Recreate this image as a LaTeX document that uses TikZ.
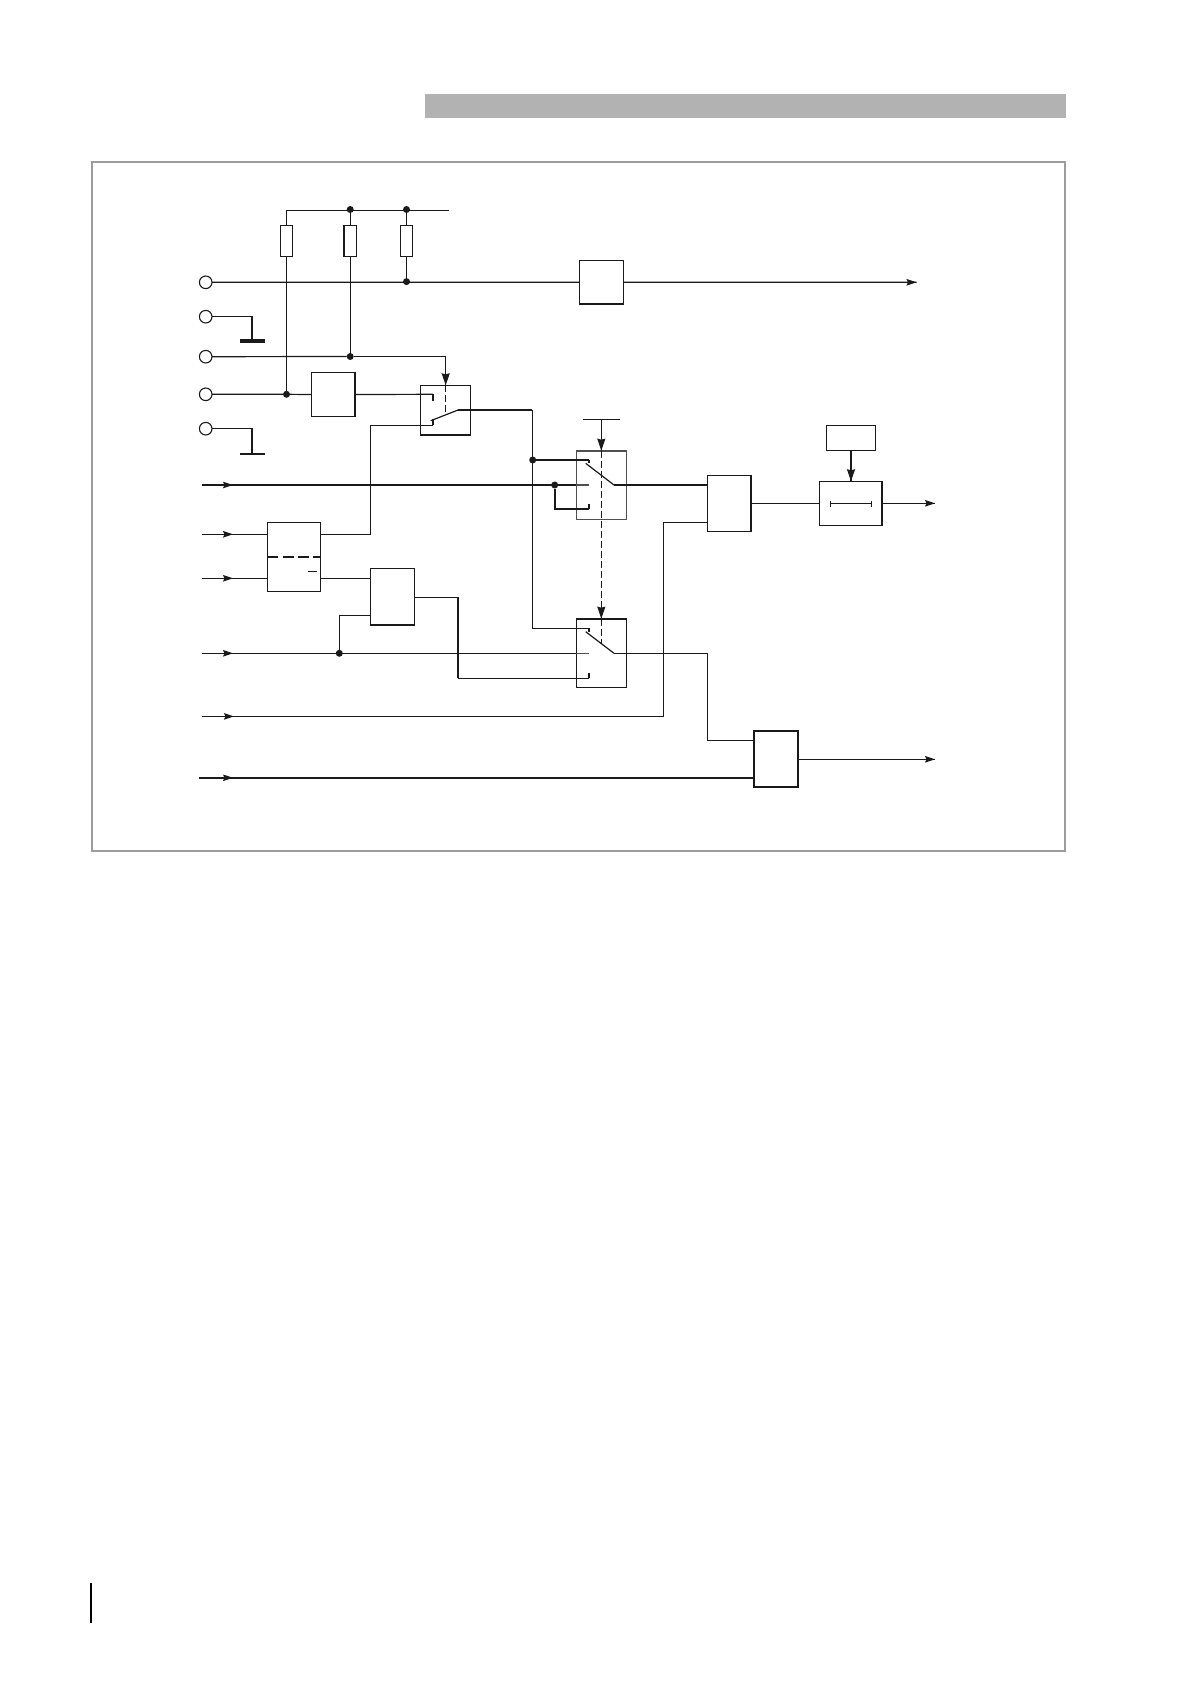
\documentclass[tikz,border=0pt]{standalone}
\usetikzlibrary{arrows.meta,calc}
\definecolor{ink}{HTML}{1A1A1A}
\definecolor{framegray}{HTML}{9C9C9C}
\definecolor{bargray}{HTML}{B2B2B2}
\definecolor{swgray}{HTML}{505050}
\tikzset{
  wire/.style={draw=ink,line width=1.2pt},
  bus/.style={draw=ink,line width=2.3pt},
  contact/.style={draw=ink,line width=1.7pt},
  grayend/.style={draw=swgray,line width=1.5pt},
  mech/.style={draw=ink,line width=1.1pt,dash pattern=on 7pt off 3pt},
  tipa/.style={draw=ink,line width=1.1pt,-{Stealth[length=10pt,width=6.5pt,inset=1.5pt]}},
  tipb/.style={draw=ink,line width=1.1pt,-{Stealth[length=12pt,width=8pt,inset=1pt]}},
  blk/.style={draw=ink,line width=1.1pt,inner sep=0pt,outer sep=0pt,fill=none},
  res/.style={blk,minimum width=12.4pt,minimum height=31.4pt},
  term/.style={circle,draw=ink,line width=1.1pt,minimum size=12.6pt,inner sep=0pt,outer sep=0pt},
  jdot/.style={circle,fill=ink,minimum size=7pt,inner sep=0pt,outer sep=0pt},
}
\begin{document}
\begin{tikzpicture}[x=1pt,y=-1pt]
\useasboundingbox (0,0) rectangle (1190,1684);
% header bar, frame, page rule
\fill[bargray] (425,94) rectangle (1065.7,117.7);
\draw[framegray,line width=2pt] (92,161.7) rectangle (1064.7,850.7);
\draw[black,line width=1.4pt] (90.8,1583.3) -- (90.8,1622.7);

% blocks
\node[res] (R1) at (286.5,241) {};
\node[res,minimum width=13pt] (R2) at (350.2,241) {};
\node[res] (R3) at (406.5,241) {};
\node[blk,minimum width=44pt,minimum height=43.7pt] (bA) at (601.3,282.2) {};
\node[blk,minimum width=44pt,minimum height=44.4pt] (bB) at (333.3,394.5) {};
\node[blk,minimum width=50pt,minimum height=50pt] (sA) at (445.3,410.3) {};
\node[draw=swgray,line width=1.6pt,inner sep=0pt,outer sep=0pt,minimum width=50pt,minimum height=68.6pt] (sB) at (601.3,485) {};
\node[blk,minimum width=50pt,minimum height=68.6pt] (sC) at (601.3,653) {};
\node[blk,minimum width=44pt,minimum height=56pt] (bC) at (729.3,503.3) {};
\node[blk,minimum width=63pt,minimum height=44.4pt] (bD) at (850.8,503.5) {};
\node[blk,minimum width=49.4pt,minimum height=25.4pt] (bE) at (851,438) {};
\node[blk,minimum width=53.4pt,minimum height=69pt] (bF) at (294,556.8) {};
\node[blk,minimum width=44.4pt,minimum height=56.7pt] (bG) at (392.5,596.7) {};
\node[blk,line width=1.9pt,minimum width=44pt,minimum height=56.3pt] (bH) at (776.3,758.9) {};

% heavier block edges
\draw[bus,line width=2pt] (R2.north west) -- (R2.south west);
\draw[bus,line width=2pt] (bA.south west) -- (bA.south east);
\draw[bus,line width=1.9pt] (bB.north east) -- (bB.south east);
\draw[bus,line width=2pt] (sA.south west) -- (sA.south east);
\draw[bus,line width=2.2pt] (sC.north west) -- (sC.north east);
\draw[bus,line width=2.2pt] (bC.north east) -- (bC.south east);
\draw[bus,line width=2.2pt] (bD.north east) -- (bD.south east);
\draw[bus,line width=2.2pt] (bG.south west) -- (bG.south east);

% terminals
\node[term] (T1) at (205.7,282.3) {};
\node[term] (T2) at (205.7,316.7) {};
\node[term] (T3) at (205.7,356.7) {};
\node[term] (T4) at (205.7,394.3) {};
\node[term] (T5) at (205.7,428.7) {};

% junctions
\node[jdot] (jR2) at (350.2,209.5) {};
\node[jdot] (jR3) at (406.5,209.5) {};
\node[jdot] (j282) at (406.5,281.6) {};
\node[jdot] (j357) at (350.2,356.5) {};
\node[jdot] (j394) at (286.5,394.3) {};
\node[jdot] (jTop) at (532.7,460) {};
\node[jdot] (jIn) at (554.7,485) {};
\node[jdot] (jLow) at (339.3,653.3) {};

% named free ends and contacts
\coordinate (railEnd) at (449,210.4);
\coordinate (g1) at (252,341);   \coordinate (g1L) at (240,341); \coordinate (g1R) at (265,341);
\coordinate (g2) at (252,453.7); \coordinate (g2L) at (240,453.7); \coordinate (g2R) at (265,453.7);
\coordinate (sAtop) at (445.7,385.3);
\coordinate (sAdash) at (445.7,412.7);
\coordinate (cA1) at (433,394.3);  \coordinate (cA1e) at (433,400.7);
\coordinate (cA2) at (433,425.3);  \coordinate (cA2e) at (433,419.3);
\coordinate (armA1) at (430.7,420.7); \coordinate (armA2) at (458.3,409.9);
\coordinate (busA) at (532.3,409.9);
\coordinate (cB1) at (589.3,460);  \coordinate (cB1e) at (589.3,463.3);
\coordinate (cB3) at (589.3,509.3);\coordinate (cB3e) at (589.3,504.3);
\coordinate (cBm) at (589.3,485);  \coordinate (eBm) at (576.3,485);
\coordinate (armB1) at (585.7,463.3); \coordinate (armB2) at (614,485);
\coordinate (cC1) at (589.3,628.3);\coordinate (cC1e) at (589.3,631.7);
\coordinate (cC3) at (589.3,678.3);\coordinate (cC3e) at (589.3,672.7);
\coordinate (cCm) at (589.3,653.3);\coordinate (eCm) at (576.3,653.3);
\coordinate (armC1) at (585.7,631.7); \coordinate (armC2) at (614,653.3);
\coordinate (vL) at (583,419.3); \coordinate (vR) at (619.7,419.3); \coordinate (vM) at (601.3,419.3);
\coordinate (sBtop) at (601.3,450.7);
\coordinate (sCtop) at (601.3,618.7);
\coordinate (sCdash) at (601.3,643.3);
\coordinate (bCin1) at (707.3,485);
\coordinate (bCin2) at (707.3,522.3);
\coordinate (bCout) at (751.3,503.3);
\coordinate (bDin) at (819.3,503.3);
\coordinate (bDout) at (882.3,503.3);
\coordinate (outD) at (935,503.3);
\coordinate (outA) at (916.5,282.3);
\coordinate (eTop) at (851,450.7); \coordinate (dTop) at (851,481.3);
\coordinate (iL) at (830.3,503.7); \coordinate (iR) at (871.7,503.7);
\coordinate (bFin1) at (267.3,534.3); \coordinate (bFin2) at (267.3,578.3);
\coordinate (bFo1) at (320.7,534.3);  \coordinate (bFo2) at (320.7,578.3);
\coordinate (dF1) at (267.3,557); \coordinate (dF2) at (320.7,557);
\coordinate (mF1) at (308.3,571.3); \coordinate (mF2) at (317,571.3);
\coordinate (bGin1) at (370.3,578.3); \coordinate (bGin2) at (370.3,615.3);
\coordinate (bGout) at (414.7,597.3);
\coordinate (busG1) at (458,597.3); \coordinate (busG2) at (458,678.3);
\coordinate (bHin1) at (754.3,740.3); \coordinate (bHin2) at (754.3,777.8);
\coordinate (bHout) at (798.3,759.3); \coordinate (outH) at (935,759.3);
\coordinate (swOutC) at (707.3,653.3);
\coordinate (crossC) at (663.3,522.3);
\coordinate (sAin) at (370.7,425.3);

% input stubs
\coordinate (i1) at (202,485);   \coordinate (i1t) at (233,485);
\coordinate (i2) at (202,534.3); \coordinate (i2t) at (233,534.3);
\coordinate (i3) at (202,578.3); \coordinate (i3t) at (233,578.3);
\coordinate (i4) at (202,653.3); \coordinate (i4t) at (233,653.3);
\coordinate (i5) at (202,716.4); \coordinate (i5t) at (234,716.4);
\coordinate (i6) at (199,777.8); \coordinate (i6t) at (233,777.8);

% upper wiring
\draw[wire] (R1.north) |- (railEnd);
\draw[wire] (jR2) -- (R2.north);
\draw[wire] (jR3) -- (R3.north);
\draw[wire] (R1.south) -- (j394);
\draw[wire] (R2.south) -- (j357);
\draw[wire] (R3.south) -- (j282);
\draw[wire] (T1) -- (bA.west);
\draw[wire] (bA.east) -- (outA);
\draw[tipa] ($(outA)+(-10,0)$) -- (outA);
\draw[wire] (T2) -| (g1);
\draw[bus,line width=3.2pt] (g1L) -- (g1R);
\draw[wire] (T5) -| (g2);
\draw[bus,line width=2.2pt] (g2L) -- (g2R);
\draw[wire] (T3) -- (j357);
\draw[wire] (j357) -| (sAtop);
\draw[tipb] ($(sAtop)+(0,-12)$) -- (sAtop);
\draw[mech] (sAtop) -- (sAdash);
\draw[wire] (T4) -- (j394) -- (bB.west);
\draw[wire] (bB.east) -- (cA1);
\draw[contact] (cA1) -- (cA1e);
\draw[contact] (cA2) -- (cA2e);
\draw[wire] (armA1) -- (armA2);
\draw[bus] (armA2) -- (busA);
\draw[wire] (cA2) -- (sAin) -- (sAin |- bFo1) -- (bFo1);
\draw[wire] (busA) -- (busA |- cC1) -- (cC1);
\draw[contact] (cC1) -- (cC1e);

% first changeover
\draw[bus] (jTop) -- (cB1);
\draw[contact] (cB1) -- (cB1e);
\draw[bus] (i1) -- (eBm);
\draw[grayend] (eBm) -- (cBm);
\draw[bus] (jIn) |- (cB3);
\draw[contact] (cB3) -- (cB3e);
\draw[wire] (armB1) -- (armB2);
\draw[bus] (armB2) -- (bCin1);
\draw[wire] (vL) -- (vR);
\draw[wire] (vM) -- (sBtop);
\draw[tipb] ($(sBtop)+(0,-12)$) -- (sBtop);
\draw[mech] (sBtop) -- (sCtop);
\draw[tipb] ($(sCtop)+(0,-12)$) -- (sCtop);
\draw[mech] (sCtop) -- (sCdash);

% second changeover
\draw[wire] (i4) -- (eCm);
\draw[grayend] (eCm) -- (cCm);
\draw[contact] (cC3) -- (cC3e);
\draw[wire] (armC1) -- (armC2);
\draw[wire] (armC2) -- (swOutC) |- (bHin1);

% right side
\draw[wire] (bCout) -- (bDin);
\draw[wire] (bCin2) -- (crossC) |- (i5);
\draw[wire] (bDout) -- (outD);
\draw[tipa] ($(outD)+(-10,0)$) -- (outD);
\draw[bus,line width=2pt] (eTop) -- (dTop);
\draw[tipb,line width=1.2pt] ($(dTop)+(0,-12)$) -- (dTop);
\draw[wire,line width=1pt] (iL) -- (iR);
\draw[wire,line width=1pt] ($(iL)+(0,-3)$) -- ($(iL)+(0,3)$);
\draw[wire,line width=1pt] ($(iR)+(0,-3)$) -- ($(iR)+(0,3)$);

% left blocks
\draw[wire] (i2) -- (bFin1);
\draw[wire] (i3) -- (bFin2);
\draw[bus,line width=2pt,dash pattern=on 11pt off 4.2pt] (dF1) -- (dF2);
\draw[wire] (mF1) -- (mF2);
\draw[wire] (bFo2) -- (bGin1);
\draw[wire] (bGin2) -| (jLow);
\draw[wire] (bGout) -- (busG1);
\draw[bus] (busG1) -- (busG2);
\draw[wire] (busG2) -- (cC3);
\draw[bus] (i6) -- (bHin2);
\draw[wire] (bHout) -- (outH);
\draw[tipa] ($(outH)+(-10,0)$) -- (outH);

% arrowheads on inputs
\draw[tipa] ($(i1t)+(-10,0)$) -- (i1t);
\draw[tipa] ($(i2t)+(-10,0)$) -- (i2t);
\draw[tipa] ($(i3t)+(-10,0)$) -- (i3t);
\draw[tipa] ($(i4t)+(-10,0)$) -- (i4t);
\draw[tipa] ($(i5t)+(-10,0)$) -- (i5t);
\draw[tipa] ($(i6t)+(-10,0)$) -- (i6t);
\end{tikzpicture}
\end{document}
